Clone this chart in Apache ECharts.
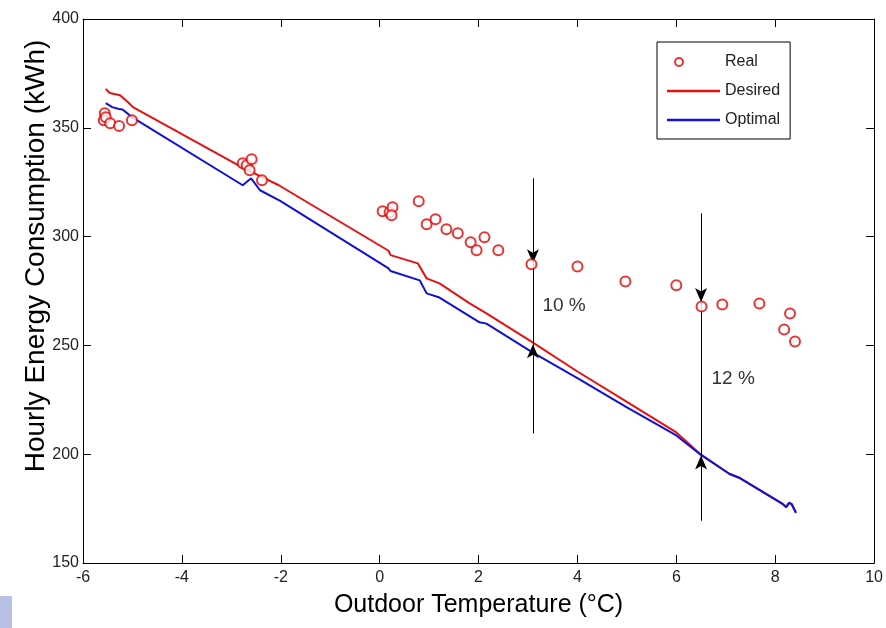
<!DOCTYPE html>
<html>
<head>
<meta charset="utf-8">
<title>Hourly Energy Consumption</title>
<script src="https://cdn.jsdelivr.net/npm/echarts@6/dist/echarts.min.js"></script>
<style>
  html, body { margin: 0; padding: 0; background: #fff; }
  #chart { width: 886px; height: 628px; }
</style>
</head>
<body>
<div id="chart"></div>
<script>
// Real (measured) points
var realX = [-5.56, -5.58, -5.54, -5.45, -5.27, -5.01, -2.77, -2.69, -2.59, -2.63, -2.38,
             0.06, 0.20, 0.26, 0.24, 0.79, 0.95, 1.13, 1.35, 1.58, 1.84, 1.96, 2.12, 2.40,
             3.07, 4.00, 4.97, 6.00, 6.51, 6.93, 7.68, 8.30, 8.18, 8.40];
var realY = [356.7, 353.5, 354.9, 352.1, 350.8, 353.5, 333.7, 332.8, 335.6, 330.5, 325.9,
             311.6, 311.2, 313.5, 309.8, 316.2, 305.7, 308.0, 303.4, 301.5, 297.4, 293.7, 299.7, 293.7,
             287.3, 286.3, 279.4, 277.6, 267.9, 268.8, 269.3, 264.7, 257.3, 251.8];

// Desired curve
var desiredX = [-5.54, -5.46, -5.25, -5.10, -4.99, -2.79, -2.04, 0.18, 0.22, 0.77, 0.95, 1.21,
                1.82, 2.16, 3.03, 4.00, 5.00, 6.00, 6.47, 7.07, 7.27, 8.14, 8.22, 8.28, 8.33, 8.42];
var desiredY = [367.8, 366.0, 365.0, 362.0, 359.5, 331.9, 323.6, 293.5, 291.5, 287.7, 280.8, 278.5,
                269.3, 264.7, 252.3, 238.0, 224.0, 210.0, 200.3, 191.0, 189.2, 177.3, 175.6, 177.5, 177.0, 173.1];

// Optimal curve
var optimalX = [-5.54, -5.41, -5.27, -5.20, -5.01, -2.77, -2.60, -2.42, -2.02, 0.18, 0.22, 0.81,
                0.95, 1.21, 2.02, 2.16, 3.09, 4.00, 5.00, 6.00, 6.46, 7.07, 7.27, 8.14, 8.22, 8.28, 8.33, 8.42];
var optimalY = [361.3, 359.5, 358.6, 358.4, 354.9, 323.6, 326.8, 321.3, 316.5, 285.4, 284.2, 279.9,
                273.9, 272.0, 260.6, 260.0, 246.8, 235.0, 221.5, 208.6, 200.3, 191.0, 189.2, 177.3, 175.8, 177.7, 177.2, 173.1];

// gap annotations
var gapX = [3.1, 6.5];
var gapTop = [326.8, 310.7];
var gapBottom = [209.5, 169.4];
var gapDownTip = [287.7, 270.0];
var gapUpTip = [250.5, 199.4];
var gapText = ['10 %', '12 %'];
var gapTextX = [3.19, 6.61];
var gapTextY = [268.0, 234.8];

function zip(xs, ys) {
    var out = [];
    for (var i = 0; i < xs.length; i++) out.push([xs[i], ys[i]]);
    return out;
}

var arrowLines = [];
var gapLabels = [];
for (var i = 0; i < gapX.length; i++) {
    arrowLines.push([{coord: [gapX[i], gapTop[i]], symbol: 'none'}, {coord: [gapX[i], gapDownTip[i]], symbol: 'arrow'}]);
    arrowLines.push([{coord: [gapX[i], gapDownTip[i]], symbol: 'none'}, {coord: [gapX[i], gapUpTip[i]], symbol: 'none'}]);
    arrowLines.push([{coord: [gapX[i], gapBottom[i]], symbol: 'none'}, {coord: [gapX[i], gapUpTip[i]], symbol: 'arrow'}]);
    gapLabels.push({name: gapText[i], coord: [gapTextX[i], gapTextY[i]]});
}

var font = 'Liberation Sans, Arial, sans-serif';
var lineIcon = 'path://M0,0 L53,0 L53,2.4 L0,2.4 Z';
// ring on the left of a 53 wide icon box, like the matlab legend marker
var ringIcon = 'path://M0,5 L0.01,5 Z M7,5 A5,5 0 1,1 17,5 A5,5 0 1,1 7,5 Z ' +
               'M9,5 A3,3 0 1,0 15,5 A3,3 0 1,0 9,5 Z M52.99,5 L53,5 Z';
var myChart = echarts.init(document.getElementById('chart'));

var option = {
    animation: false,
    backgroundColor: '#fff',
    textStyle: {fontFamily: font},
    grid: {left: 83, right: 10, top: 19, bottom: 65, containLabel: false},
    legend: {
        orient: 'vertical',
        left: 657,
        top: 42,
        padding: [12, 10, 11, 10],
        itemWidth: 53,
        itemHeight: 14,
        itemGap: 13,
        borderColor: '#000',
        borderWidth: 1,
        borderRadius: 0,
        backgroundColor: '#fff',
        textStyle: {fontFamily: font, fontSize: 16, color: '#222'},
        data: [
            {name: 'Real', icon: ringIcon, itemStyle: {color: '#e50000', borderWidth: 0}},
            {name: 'Desired', icon: lineIcon},
            {name: 'Optimal', icon: lineIcon}
        ]
    },
    xAxis: [{
        type: 'value',
        min: -6, max: 10, interval: 2,
        name: 'Outdoor Temperature (\u00b0C)',
        nameLocation: 'middle',
        nameGap: 30,
        nameTextStyle: {fontFamily: font, fontSize: 25, color: '#000', verticalAlign: 'top'},
        axisLine: {show: true, onZero: false, lineStyle: {color: '#000', width: 1}},
        axisTick: {show: true, inside: true, length: 8, lineStyle: {color: '#000'}},
        axisLabel: {fontFamily: font, fontSize: 16, color: '#222', margin: 7},
        splitLine: {show: false}
    }, {
        type: 'value',
        position: 'top',
        min: -6, max: 10, interval: 2,
        axisLine: {show: true, onZero: false, lineStyle: {color: '#000', width: 1}},
        axisTick: {show: true, inside: true, length: 8, lineStyle: {color: '#000'}},
        axisLabel: {show: false},
        splitLine: {show: false}
    }],
    yAxis: [{
        type: 'value',
        min: 150, max: 400, interval: 50,
        name: 'Hourly Energy Consumption (kWh)',
        nameLocation: 'middle',
        nameGap: 33,
        nameMoveOverlap: false,
        nameRotate: 90,
        nameTextStyle: {fontFamily: font, fontSize: 28, color: '#000', padding: [0, 0, 0, 70]},
        axisLine: {show: true, onZero: false, lineStyle: {color: '#000', width: 1}},
        axisTick: {show: true, inside: true, length: 8, lineStyle: {color: '#000'}},
        axisLabel: {fontFamily: font, fontSize: 16, color: '#222', margin: 4},
        splitLine: {show: false}
    }, {
        type: 'value',
        position: 'right',
        min: 150, max: 400, interval: 50,
        axisLine: {show: true, onZero: false, lineStyle: {color: '#000', width: 1}},
        axisTick: {show: true, inside: true, length: 8, lineStyle: {color: '#000'}},
        axisLabel: {show: false},
        splitLine: {show: false}
    }],
    graphic: [{
        type: 'rect',
        left: 0, top: 596,
        shape: {width: 12, height: 32},
        style: {fill: '#b8c0e4'}
    }],
    series: [{
        name: 'Desired',
        type: 'line',
        data: zip(desiredX, desiredY),
        showSymbol: false,
        symbol: 'none',
        lineStyle: {color: '#e81010', width: 2},
        itemStyle: {color: '#e81010'},
        z: 3
    }, {
        name: 'Optimal',
        type: 'line',
        data: zip(optimalX, optimalY),
        showSymbol: false,
        symbol: 'none',
        lineStyle: {color: '#1010d8', width: 2},
        itemStyle: {color: '#1010d8'},
        z: 4
    }, {
        name: 'Real',
        type: 'scatter',
        data: zip(realX, realY),
        symbol: 'emptyCircle',
        symbolSize: 10,
        itemStyle: {color: '#e50000', borderWidth: 2},
        z: 5
    }, {
        name: 'gaps',
        type: 'line',
        data: [],
        silent: true,
        markLine: {
            silent: true,
            animation: false,
            symbolSize: [9, 14],
            label: {show: false},
            lineStyle: {color: '#000', width: 1, type: 'solid'},
            data: arrowLines
        },
        markPoint: {
            silent: true,
            symbol: 'circle',
            symbolSize: 0,
            label: {
                show: true,
                position: 'right',
                distance: 5,
                formatter: '{b}',
                fontFamily: font,
                fontSize: 19,
                color: '#333'
            },
            data: gapLabels
        },
        z: 6
    }]
};
myChart.setOption(option);
</script>
</body>
</html>
